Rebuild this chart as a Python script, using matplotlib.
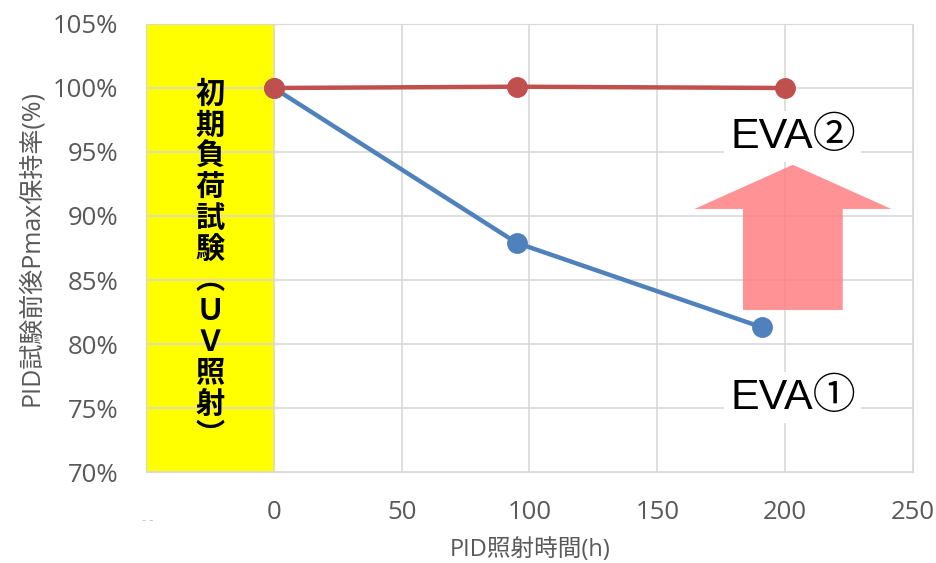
import matplotlib.pyplot as plt
from matplotlib.patches import FancyArrow

plt.rcParams['font.family'] = ['Open Sans', 'Noto Sans CJK JP', 'DejaVu Sans']

# data
hours_eva1 = [0, 95, 191]
retention_eva1 = [100.0, 87.9, 81.3]
hours_eva2 = [0, 95, 200]
retention_eva2 = [100.0, 100.1, 100.0]
x_ticks = [0, 50, 100, 150, 200, 250]
y_ticks = [70, 75, 80, 85, 90, 95, 100, 105]
uv_label = ['初', '期', '負', '荷', '試', '験', '︵', 'Ｕ', 'Ｖ', '照', '射', '︶']

fig = plt.figure(figsize=(9.37, 5.63), dpi=100)
ax = fig.add_axes([0.1558, 0.1616, 0.8186, 0.7958])

# initial load test (UV) region
ax.axvspan(-50, 0, color='#FFFF00', zorder=1)
ax.text(-25, 86.2, '\n'.join(uv_label), ha='center', va='center',
        fontsize=21, fontweight='bold', linespacing=1.04,
        family=['Noto Sans CJK JP'], zorder=3)

ax.plot(hours_eva1, retention_eva1, color='#4F81BD', lw=3.2, marker='o',
        markersize=14, zorder=4)
ax.plot(hours_eva2, retention_eva2, color='#C0504D', lw=3.2, marker='o',
        markersize=14, zorder=5)

# pink arrow showing the improvement
arrow = FancyArrow(203, 82.66, 0, 11.34, width=39, head_width=77,
                   head_length=3.45, length_includes_head=True,
                   color='#FF7F82', alpha=0.85, lw=0, zorder=2)
ax.add_patch(arrow)

box = dict(facecolor='white', edgecolor='none', pad=4)
ax.text(203, 96.2, 'EVA②', ha='center', va='center', fontsize=31,
        family=['Liberation Sans', 'Noto Sans CJK JP'], bbox=box, zorder=6)
ax.text(203, 75.8, 'EVA①', ha='center', va='center', fontsize=31,
        family=['Liberation Sans', 'Noto Sans CJK JP'], bbox=box, zorder=6)

ax.set_xlim(-50, 250)
ax.set_ylim(70, 105)
ax.set_xticks(x_ticks)
ax.set_yticks(y_ticks)
ax.set_yticklabels([f'{v}%' for v in y_ticks])
ax.xaxis.set_minor_locator(plt.FixedLocator([-50]))
ax.grid(True, which='both', color='#D9D9D9', lw=1.2)
ax.tick_params(axis='both', which='both', length=0, labelsize=18.5,
               labelcolor='#595959')
ax.tick_params(axis='x', pad=20)
ax.tick_params(axis='y', pad=20)
for s in ax.spines.values():
    s.set_color('#D9D9D9')

ax.set_ylabel('PID試験前後Pmax保持率(%)', fontsize=18, color='#595959',
              labelpad=6)
fig.text(0.566, 0.002, 'PID照射時間(h)', ha='center', va='bottom',
         fontsize=17, color='#595959')
fig.text(0.158, 0.07, '- -', ha='center', fontsize=9, color='#BFBFBF')

fig.savefig('out.png', dpi=100)
